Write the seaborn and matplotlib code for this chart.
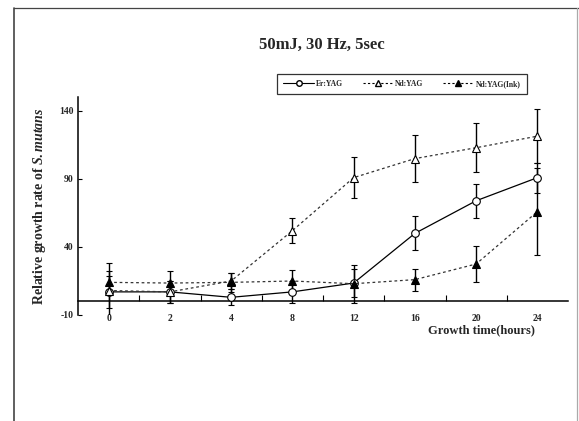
import numpy as np
import pandas as pd
import matplotlib
matplotlib.use("Agg")
import matplotlib.pyplot as plt
from matplotlib.lines import Line2D
import seaborn as sns

hours = ["0", "2", "4", "8", "12", "16", "20", "24"]
er_yag = [7, 7, 3, 7, 13.5, 50, 74, 91]
er_yag_err = [12, 8, 6, 8, 10, 12.5, 12.5, 11]
nd_yag = [8, 7, 15, 52, 91, 105, 113, 121.5]
nd_yag_err = [20, 8, 6, 9, 15, 17, 18, 20]
nd_ink = [14, 13.5, 14, 15, 13, 16, 27.5, 66]
nd_ink_err = [8, 9, 7, 8, 14, 8, 13, 32]
series_names = ["Er:YAG", "Nd:YAG", "Nd:YAG(Ink)"]
yticks = [-10, 40, 90, 140]

sns.set_theme(style="white")
plt.rcParams["font.family"] = ["Liberation Serif", "DejaVu Serif"]
plt.rcParams["font.weight"] = "bold"
plt.rcParams["axes.unicode_minus"] = False
plt.rcParams["mathtext.fontset"] = "custom"
plt.rcParams["mathtext.rm"] = "Liberation Serif:bold"
plt.rcParams["mathtext.it"] = "Liberation Serif:italic:bold"

fig = plt.figure(figsize=(5.79, 4.21), dpi=100)
ax = fig.add_axes([78/579, 106/421, 490/579, (315-97.4)/421])

pos = np.arange(len(hours))
df = pd.DataFrame({
    "pos": np.tile(pos, 3),
    "value": er_yag + nd_yag + nd_ink,
    "err": er_yag_err + nd_yag_err + nd_ink_err,
    "series": np.repeat(series_names, len(hours)),
})

styles = {
    "Er:YAG": dict(ls="-", marker="o", mfc="white", color="black"),
    "Nd:YAG": dict(ls=(0, (2.2, 2.2)), marker="^", mfc="white", color="#333333"),
    "Nd:YAG(Ink)": dict(ls=(0, (2.2, 2.2)), marker="^", mfc="black", color="#333333"),
}
for name in series_names:
    d = df[df.series == name]
    ax.errorbar(d["pos"], d["value"], yerr=d["err"], fmt="none",
                ecolor="black", elinewidth=1.0, capsize=2.5, capthick=0.8, zorder=2)
    st = styles[name]
    sns.lineplot(x=d["pos"], y=d["value"], ax=ax, color=st["color"], linewidth=0.9,
                 linestyle=st["ls"], marker=st["marker"], markersize=5.5,
                 markerfacecolor=st["mfc"], markeredgecolor="black",
                 markeredgewidth=0.8, zorder=3)

ax.set_xlim(-0.5, len(hours) - 0.5)
ax.set_ylim(-10, 150)
ax.set_xticks(pos)
ax.set_xticklabels(hours)
ax.set_xticks(pos[:-1] + 0.5, minor=True)
ax.set_yticks(yticks)
ax.spines["top"].set_visible(False)
ax.spines["right"].set_visible(False)
ax.spines["bottom"].set_position(("data", 0))
ax.spines["left"].set_linewidth(1.1)
ax.spines["bottom"].set_linewidth(1.1)
ax.spines["left"].set_color("black")
ax.spines["bottom"].set_color("black")
ax.tick_params(axis="x", which="major", length=0, pad=9, labelsize=7)
ax.tick_params(axis="x", which="minor", direction="in", length=4, width=0.8, color="black", bottom=True)
ax.tick_params(axis="y", which="major", direction="in", length=3, width=0.8, color="black", left=True, labelsize=7, pad=3)
for lab in ax.get_xticklabels() + ax.get_yticklabels():
    lab.set_fontweight("bold")
ax.set_xlabel("")
ax.set_ylabel("Relative growth rate of $\\it{S.mutans}$", fontsize=10, fontweight="bold")
ax.yaxis.set_label_coords(-0.062, 0.5)
ax.set_facecolor("white")

fig.text(0.556, 0.893, "50mJ, 30 Hz, 5sec", ha="center", va="center", fontsize=12, fontweight="bold")
fig.text(0.831, 0.216, "Growth time(hours)", ha="center", va="center", fontsize=9, fontweight="bold")

handles = [
    Line2D([], [], color="black", lw=0.8, ls="-", marker="o", mfc="white", mec="black", ms=4),
    Line2D([], [], color="black", lw=0.8, ls=(0, (2, 2)), marker="^", mfc="white", mec="black", ms=4),
    Line2D([], [], color="black", lw=0.8, ls=(0, (2, 2)), marker="^", mfc="black", mec="black", ms=4),
]
leg = fig.legend(handles, series_names, loc="center", bbox_to_anchor=(402/579, 1 - 84/421),
                 ncol=3, fontsize=5.5, frameon=True, fancybox=False, edgecolor="black",
                 handlelength=4, columnspacing=2.5, borderpad=0.8, handletextpad=0.3)
leg.get_frame().set_linewidth(0.9)
for t in leg.get_texts():
    t.set_fontweight("bold")

# scanned page frame
fig.add_artist(Line2D([14/579, 14/579], [0, 1 - 8/421], color="#444444", lw=1.2, transform=fig.transFigure))
fig.add_artist(Line2D([14/579, 1], [1 - 8/421, 1 - 8/421], color="#444444", lw=0.9, transform=fig.transFigure))
fig.add_artist(Line2D([577/579, 577/579], [0, 1 - 8/421], color="#aaaaaa", lw=0.9, transform=fig.transFigure))

fig.savefig("out.png", dpi=100, facecolor="white")
